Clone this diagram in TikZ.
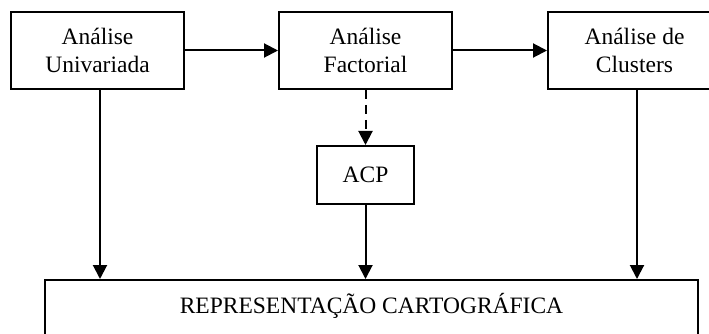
\documentclass[tikz,border=0pt]{standalone}
\usepackage{fontspec}
\setmainfont{Liberation Serif}
\usetikzlibrary{arrows.meta}
\begin{document}
\begin{tikzpicture}[x=1pt,y=-1pt,
  box/.style={draw=black,line width=2pt,inner sep=0pt,align=center,
    font=\fontsize{23.5}{28}\selectfont},
  conn/.style={line width=2pt,-{Triangle[length=14pt,width=14pt]}},
  dashconn/.style={conn,dash pattern=on 9pt off 6pt}]
\useasboundingbox (0,0) rectangle (709,334);
\clip (0,0) rectangle (709,334);
\node[box,minimum width=173pt,minimum height=77pt] (uni) at (97.5,50.5) {Análise\\Univariada};
\node[box,minimum width=173pt,minimum height=77pt] (fac) at (365.5,50.5) {Análise\\Factorial};
\node[box,minimum width=173pt,minimum height=77pt] (clu) at (634.5,50.5) {Análise de\\Clusters};
\node[box,minimum width=97pt,minimum height=58pt] (acp) at (365.5,175) {ACP};
\node[box,minimum width=653pt,minimum height=60pt,text height=16pt,text depth=10pt] (rep) at (371.5,310) {REPRESENTAÇÃO CARTOGRÁFICA};
\draw[conn] (uni.east) -- (fac.west);
\draw[conn] (fac.east) -- (clu.west);
\draw[dashconn] (fac.south) -- (acp.north);
\draw[conn] (acp.south) -- (acp.south |- rep.north);
\draw[conn] (uni.south -| 100,0) -- (rep.north -| 100,0);
\draw[conn] (clu.south -| 637,0) -- (rep.north -| 637,0);
\end{tikzpicture}
\end{document}
